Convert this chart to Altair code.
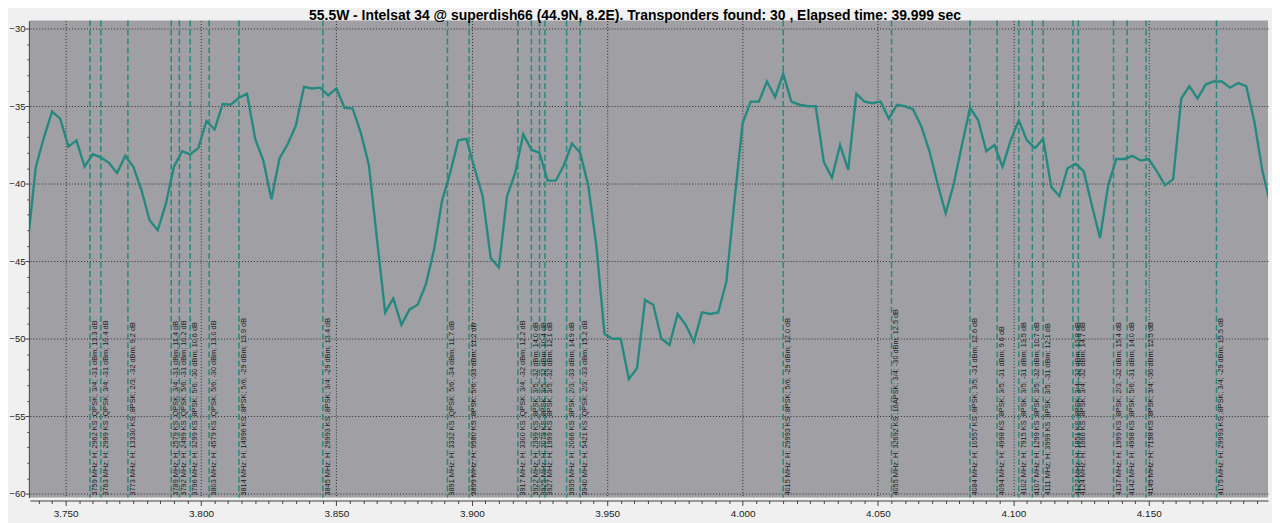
import altair as alt
import pandas as pd

# ---------------- data ----------------
title_text = ("55.5W - Intelsat 34 @ superdish66 (44.9N, 8.2E). "
              "Transponders found: 30 , Elapsed time: 39.999 sec")

sweep_start_mhz = 3736
sweep_step_mhz = 3
levels_dbm = [
    -43.8, -38.9, -37.0, -35.35, -35.8, -37.6, -37.2, -38.9, -38.1, -38.3,
    -38.65, -39.3, -38.2, -38.9, -40.4, -42.35, -43.0, -41.3, -38.9, -37.9,
    -38.1, -37.7, -35.95, -36.5, -34.85, -34.9, -34.45, -34.2, -37.1, -38.5,
    -41.0, -38.35, -37.45, -36.25, -33.75, -33.85, -33.8, -34.3, -33.85, -35.1,
    -35.15, -36.7, -38.8, -43.6, -48.3, -47.4, -49.1, -48.1, -47.8, -46.5,
    -44.3, -41.1, -39.3, -37.2, -37.1, -39.0, -40.8, -44.8, -45.4, -40.8,
    -39.3, -36.8, -37.8, -38.0, -39.8, -39.8, -38.8, -37.4, -38.0, -40.1,
    -44.0, -49.7, -50.0, -50.0, -52.6, -51.9, -47.5, -47.8, -50.0, -50.4,
    -48.4, -49.1, -50.2, -48.3, -48.4, -48.3, -46.3, -41.1, -36.1, -34.7,
    -34.7, -33.4, -34.4, -32.9, -34.7, -34.9, -35.0, -35.0, -38.6, -39.6,
    -37.5, -39.1, -34.2, -34.7, -34.8, -34.7, -35.8, -34.9, -35.0, -35.2,
    -36.3, -37.9, -40.0, -41.9, -40.0, -37.5, -35.1, -35.9, -37.9, -37.5,
    -38.9, -37.2, -35.9, -37.2, -37.7, -37.1, -40.2, -40.8, -39.0, -38.7,
    -39.2, -41.4, -43.5, -40.1, -38.4, -38.4, -38.2, -38.5, -38.4, -39.2,
    -40.1, -39.7, -34.5, -33.7, -34.5, -33.6, -33.4, -33.4, -33.8, -33.5,
    -33.7, -36.0, -39.2, -41.4,
]

tp_mhz = [3759, 3763, 3773, 3789, 3792, 3796, 3803, 3814, 3845, 3891,
          3899, 3917, 3922, 3925, 3927, 3935, 3940, 4015, 4055, 4084,
          4094, 4102, 4107, 4111, 4122, 4124, 4137, 4142, 4149, 4175]
tp_labels = [
    "3759 MHz; H; 2962 KS ;QPSK; 3/4; -31 dBm; 13.3 dB",
    "3763 MHz; H; 2999 KS ;QPSK; 3/4; -31 dBm; 10.4 dB",
    "3773 MHz; H; 13330 KS ;8PSK; 2/3; -32 dBm; 9.2 dB",
    "3789 MHz; H; 2579 KS ;QPSK; 3/4; -31 dBm; 11.4 dB",
    "3792 MHz; H; 2499 KS ;QPSK; 5/6; -31 dBm; 10.2 dB",
    "3796 MHz; H; 3299 KS ;8PSK; 5/6; -30 dBm; 10.6 dB",
    "3803 MHz; H; 4579 KS ;QPSK; 5/6; -30 dBm; 13.0 dB",
    "3814 MHz; H; 14996 KS ;8PSK; 5/6; -29 dBm; 13.9 dB",
    "3845 MHz; H; 29993 KS ;8PSK; 3/4; -29 dBm; 13.4 dB",
    "3891 MHz; H; 3332 KS ;QPSK; 5/6; -34 dBm; 11.7 dB",
    "3899 MHz; H; 9580 KS ;8PSK; 5/6; -33 dBm; 11.2 dB",
    "3917 MHz; H; 3300 KS ;QPSK; 3/4; -32 dBm; 12.2 dB",
    "3922 MHz; H; 2399 KS ;8PSK; 3/5; -32 dBm; 14.0 dB",
    "3925 MHz; H; 2079 KS ;8PSK; 3/5; -32 dBm; 10.4 dB",
    "3927 MHz; H; 1999 KS ;8PSK; 3/5; -32 dBm; 12.1 dB",
    "3935 MHz; H; 2066 KS ;8PSK; 2/3; -33 dBm; 14.9 dB",
    "3940 MHz; H; 5421 KS ;QPSK; 2/3; -33 dBm; 15.2 dB",
    "4015 MHz; H; 29993 KS ;8PSK; 5/6; -29 dBm; 12.0 dB",
    "4055 MHz; H; 32692 KS ;16APSK; 3/4; -30 dBm; 12.5 dB",
    "4084 MHz; H; 10557 KS ;8PSK; 3/5; -31 dBm; 12.6 dB",
    "4094 MHz; H; 4998 KS ;8PSK; 3/5; -31 dBm; 9.6 dB",
    "4102 MHz; H; 7915 KS ;8PSK; 3/5; -31 dBm; 13.5 dB",
    "4107 MHz; H; 1299 KS ;8PSK; 3/5; -32 dBm; 10.7 dB",
    "4111 MHz; H; 3999 KS ;8PSK; 3/5; -31 dBm; 12.1 dB",
    "4122 MHz; H; 1851 KS ;8PSK; 3/4; -32 dBm; 13.8 dB",
    "4124 MHz; H; 1666 KS ;8PSK; 3/4; -32 dBm; 14.7 dB",
    "4137 MHz; H; 1999 KS ;8PSK; 2/3; -32 dBm; 15.4 dB",
    "4142 MHz; H; 4998 KS ;8PSK; 5/6; -31 dBm; 14.0 dB",
    "4149 MHz; H; 7198 KS ;8PSK; 3/4; -30 dBm; 12.5 dB",
    "4175 MHz; H; 29993 KS ;8PSK; 3/4; -29 dBm; 15.5 dB",
]

x_ticks = [round(3.740 + 0.005 * i, 3) for i in range(91)]
y_ticks = list(range(-60, -29))

# ---------------- tables ----------------
spec_df = pd.DataFrame({
    "f": [(sweep_start_mhz + sweep_step_mhz * i) / 1000 for i in range(len(levels_dbm))],
    "v": levels_dbm,
})
tp_df = pd.DataFrame({"f": [m / 1000 for m in tp_mhz], "label": tp_labels})

# ---------------- styling ----------------
TRACE = "#26897f"
PLOT_W, PLOT_H = 1246, 480
X_DOMAIN = [3.73679, 4.19404]
Y_DOMAIN = [-60.24, -29.47]

x_major = "abs(datum.value*20 - round(datum.value*20)) < 0.001"
y_major = "datum.value % 5 == 0"

x_axis = alt.Axis(
    values=x_ticks, title=None, offset=3,
    labelExpr=f"{x_major} ? format(datum.value, '.3f') : ''",
    labelFont="Liberation Sans", labelFontSize=10, labelColor="#202020",
    labelPadding=3, labelFlush=False, labelOverlap=False,
    tickSize={"condition": {"test": x_major, "value": 5}, "value": 3},
    tickColor="#404040", domainColor="#404040",
    grid=True, gridColor="#2a2a2a", gridDash=[1, 2], gridWidth=1,
    gridOpacity={"condition": {"test": x_major, "value": 1}, "value": 0},
)
y_axis = alt.Axis(
    values=y_ticks, title=None, offset=1,
    labelExpr=f"{y_major} ? format(datum.value, 'd') : ''",
    labelFont="Liberation Sans", labelFontSize=9.5, labelColor="#202020",
    labelPadding=0, labelFlush=False, labelOverlap=False,
    tickSize={"condition": {"test": y_major, "value": 4}, "value": 2},
    tickColor="#404040", domainColor="#404040",
    grid=True, gridColor="#2a2a2a", gridDash=[1, 2], gridWidth=1,
    gridOpacity={"condition": {"test": y_major, "value": 1}, "value": 0},
)

x_enc = alt.X("f:Q", scale=alt.Scale(domain=X_DOMAIN, nice=False, zero=False), axis=x_axis)
y_enc = alt.Y("v:Q", scale=alt.Scale(domain=Y_DOMAIN, nice=False, zero=False), axis=y_axis)

rules = alt.Chart(tp_df).mark_rule(
    color=TRACE, strokeWidth=1.5, strokeDash=[6, 3]
).encode(x=x_enc)

texts = alt.Chart(tp_df).mark_text(
    angle=270, align="left", baseline="top", dy=1,
    font="Liberation Sans", fontSize=7.4, color="#1a1a1a"
).encode(x=x_enc, y=alt.value(PLOT_H - 2), text="label:N")

trace = alt.Chart(spec_df).mark_line(
    color=TRACE, strokeWidth=2.4, clip=True
).encode(x=x_enc, y=y_enc)

chart = alt.layer(rules, texts, trace).properties(
    width=PLOT_W, height=PLOT_H,
    title=alt.TitleParams(
        text=title_text, font="Liberation Sans", fontSize=14, fontWeight="bold",
        color="#000000", anchor="middle", frame="group", baseline="alphabetic",
        offset=1, dx=-14, dy=15,
    ),
    autosize=alt.AutoSizeParams(type="none"),
    padding={"left": 22, "top": 11, "right": 4, "bottom": 24},
    background="#f0f0f0",
).configure_view(fill="#a0a0a4", stroke=None)

chart.save("out.html", embed_options={"renderer": "svg", "actions": False})
